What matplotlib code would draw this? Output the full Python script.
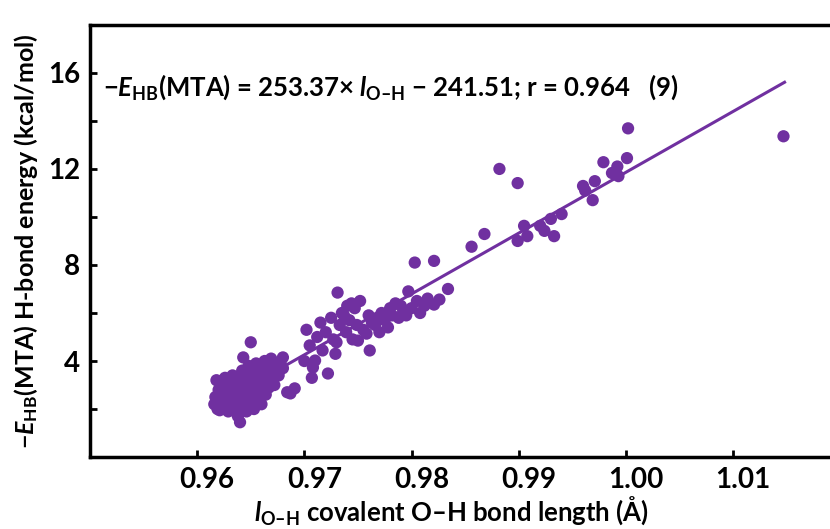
#!/usr/bin/env python3

import numpy as np
import matplotlib
matplotlib.use("Agg")
import matplotlib.pyplot as plt
from matplotlib.transforms import ScaledTranslation

# bond length (A) and -E_HB (kcal/mol)
bond_length = [
    0.9616, 0.9617, 0.9618, 0.9619, 0.9620, 0.9621, 0.9622, 0.9623, 0.9624, 0.9625,
    0.9626, 0.9627, 0.9628, 0.9629, 0.9630, 0.9630, 0.9631, 0.9632, 0.9633, 0.9634,
    0.9635, 0.9636, 0.9637, 0.9638, 0.9639, 0.9640, 0.9640, 0.9641, 0.9642, 0.9643,
    0.9643, 0.9644, 0.9645, 0.9646, 0.9647, 0.9648, 0.9649, 0.9650, 0.9650, 0.9651,
    0.9652, 0.9653, 0.9654, 0.9655, 0.9656, 0.9657, 0.9658, 0.9659, 0.9660, 0.9661,
    0.9662, 0.9663, 0.9664, 0.9665, 0.9666, 0.9667, 0.9668, 0.9669, 0.9670, 0.9672,
    0.9674, 0.9676, 0.9678, 0.9680, 0.9680, 0.9684, 0.9687, 0.9691, 0.9623, 0.9633,
    0.9700, 0.9702, 0.9705, 0.9707, 0.9708, 0.9710, 0.9712, 0.9715, 0.9717, 0.9720,
    0.9722, 0.9725, 0.9727, 0.9729, 0.9730, 0.9731, 0.9733, 0.9735, 0.9737, 0.9739,
    0.9740, 0.9742, 0.9744, 0.9745, 0.9747, 0.9749, 0.9750, 0.9752, 0.9755, 0.9758,
    0.9760, 0.9761, 0.9763, 0.9766, 0.9768, 0.9770, 0.9772, 0.9775, 0.9778, 0.9780,
    0.9782, 0.9785, 0.9788, 0.9790, 0.9792, 0.9795, 0.9797, 0.9800, 0.9803, 0.9805,
    0.9808, 0.9812, 0.9815, 0.9821, 0.9821, 0.9826, 0.9834,
    0.9856, 0.9868, 0.9882, 0.9899, 0.9899, 0.9905, 0.9908, 0.9920, 0.9924, 0.9930,
    0.9933, 0.9940, 0.9960, 0.9962, 0.9969, 0.9971, 0.9979, 0.9987, 0.9992, 0.9993,
    1.0001, 1.0002, 1.0147,
]
hb_energy = [
    2.20, 2.50, 3.20, 2.00, 2.80, 1.95, 2.35, 3.00, 2.60, 2.10,
    3.30, 2.40, 2.90, 1.90, 2.60, 3.10, 2.20, 2.75, 3.40, 2.00,
    2.50, 2.90, 3.20, 1.70, 2.30, 1.45, 2.70, 3.00, 3.60, 4.15,
    2.10, 2.50, 3.30, 1.90, 2.80, 3.80, 2.30, 4.78, 3.10, 2.60,
    3.50, 2.00, 2.90, 3.90, 2.40, 3.30, 2.70, 3.70, 2.20, 3.00,
    3.50, 4.00, 2.60, 3.20, 3.80, 2.90, 3.40, 4.10, 3.60, 3.00,
    3.90, 3.40, 4.00, 3.70, 4.15, 2.70, 2.65, 2.86, 3.10, 2.45,
    4.00, 5.30, 4.65, 3.30, 3.73, 4.02, 5.00, 5.60, 4.44, 5.20,
    3.48, 5.80, 4.90, 4.30, 4.78, 6.85, 5.50, 6.00, 5.90, 5.20,
    6.30, 5.70, 6.40, 4.90, 6.20, 5.50, 4.85, 6.50, 5.30, 5.14,
    5.90, 4.44, 5.60, 5.50, 5.80, 5.20, 6.00, 5.70, 5.40, 6.20,
    5.90, 6.40, 5.80, 6.30, 6.00, 5.90, 6.90, 6.20, 8.10, 6.50,
    6.00, 6.30, 6.60, 6.35, 8.17, 6.56, 7.00,
    8.76, 9.29, 12.00, 11.41, 9.00, 9.63, 9.20, 9.63, 9.42, 9.92,
    9.20, 10.12, 11.29, 11.10, 10.70, 11.49, 12.28, 11.83, 12.10, 11.70,
    12.45, 13.69, 13.36,
]

slope = 253.37
intercept = -241.51
fit_range = [0.9620, 1.0148]

x_ticks = [0.96, 0.97, 0.98, 0.99, 1.00, 1.01]
y_ticks = [2, 4, 6, 8, 10, 12, 14, 16]
y_labelled = [4, 8, 12, 16]

purple = "#7030A0"


def main():
    plt.rcParams['font.family'] = ['Lato', 'DejaVu Sans']
    plt.rcParams['font.weight'] = 'bold'
    plt.rcParams['mathtext.fontset'] = 'custom'
    plt.rcParams['mathtext.rm'] = 'Lato'
    plt.rcParams['mathtext.it'] = 'Lato:italic:bold'
    plt.rcParams['mathtext.bf'] = 'Lato:bold'

    fig = plt.figure(figsize=(8.30, 5.29), dpi=100)
    ax = fig.add_axes([0.1084, 0.136, 0.904, 0.817])

    ax.scatter(bond_length, hb_energy, s=78, color=purple, edgecolors='none', zorder=3)
    fx = np.array(fit_range)
    ax.plot(fx, slope * fx + intercept, color=purple, lw=2.2, zorder=2)

    ax.set_xlim(0.95, 1.02)
    ax.set_ylim(0, 18)
    ax.set_xticks(x_ticks)
    ax.set_xticklabels(["%.2f" % v for v in x_ticks])
    ax.set_yticks(y_ticks)
    ax.set_yticklabels([str(v) if v in y_labelled else "" for v in y_ticks])
    ax.tick_params(direction='in', length=5, width=2, labelsize=20, pad=7)
    for lbl in ax.get_xticklabels():
        lbl.set_transform(lbl.get_transform() + ScaledTranslation(0.10, 0, fig.dpi_scale_trans))
    for sp in ax.spines.values():
        sp.set_linewidth(2.5)

    ax.set_xlabel(r"$\mathit{l}_{\mathrm{O–H}}$ covalent O–H bond length (Å)",
                  fontsize=18.5, fontweight='bold')
    ax.xaxis.label.set_va('baseline')
    ax.xaxis.set_label_coords(0.481, -0.148)
    ax.set_ylabel("−" + r"$\mathit{E}_{\mathrm{HB}}$(MTA) H-bond energy (kcal/mol)",
                  fontsize=18, fontweight='bold', labelpad=6)

    ax.text(0.018, 0.855,
            "−" + r"$\mathit{E}_{\mathrm{HB}}$(MTA) = 253.37× "
            + r"$\mathit{l}_{\mathrm{O–H}}$ − 241.51; r = 0.964   (9)",
            transform=ax.transAxes, fontsize=18.5, fontweight='bold', va='center')

    fig.savefig("out.png", dpi=100)


if __name__ == "__main__":
    main()
